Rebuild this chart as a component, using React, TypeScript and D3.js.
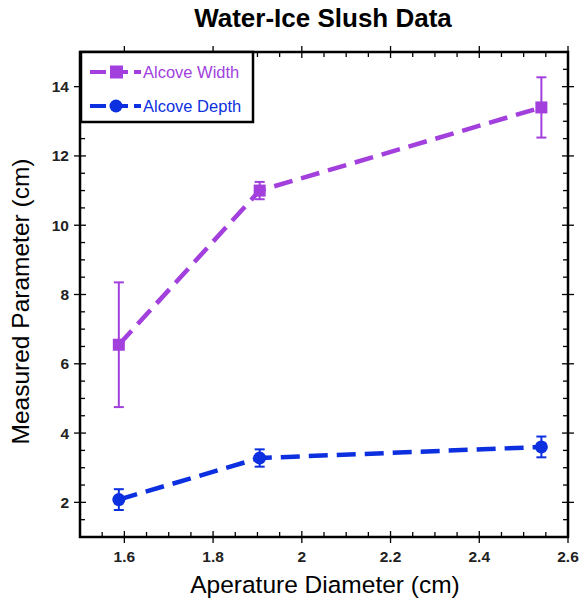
import React, { useEffect, useRef } from "react";
import * as d3 from "d3";

// aperture diameters (cm)
const diameters = [1.5875, 1.905, 2.54];

const widthValues = [6.55, 11.0, 13.4];
const widthErrors = [1.8, 0.25, 0.87];

const depthValues = [2.08, 3.28, 3.6];
const depthErrors = [0.3, 0.25, 0.3];

const xTicks = [1.6, 1.8, 2, 2.2, 2.4, 2.6];
const yTicks = [2, 4, 6, 8, 10, 12, 14];

const PURPLE = "#a23fdd";
const BLUE = "#0c2fe0";

const App = () => {
  const chartRef = useRef<SVGSVGElement>(null);

  useEffect(() => {
    const svg = d3.select(chartRef.current);
    svg.selectAll("*").remove();

    const left = 80;
    const right = 568;
    const top = 52;
    const bottom = 537;

    const x = d3.scaleLinear().domain([1.5, 2.6]).range([left, right]);
    const y = d3.scaleLinear().domain([1, 15]).range([bottom, top]);

    const font = "Arial, 'Liberation Sans', Helvetica, sans-serif";

    // minor ticks
    const xMinor = d3.range(1.55, 2.6, 0.05).filter(v => !xTicks.some(t => Math.abs(t - v) < 1e-6));
    const yMinor = d3.range(1.5, 15, 0.5).filter(v => !yTicks.some(t => Math.abs(t - v) < 1e-6));

    const ticks = svg.append("g").attr("stroke", "#000").attr("stroke-width", 1.3);
    xMinor.forEach(v => {
      ticks.append("line").attr("x1", x(v)).attr("x2", x(v)).attr("y1", bottom).attr("y2", bottom - 5);
      ticks.append("line").attr("x1", x(v)).attr("x2", x(v)).attr("y1", top).attr("y2", top + 5);
    });
    xTicks.forEach(v => {
      ticks.append("line").attr("x1", x(v)).attr("x2", x(v)).attr("y1", bottom - 6).attr("y2", bottom + 6);
      ticks.append("line").attr("x1", x(v)).attr("x2", x(v)).attr("y1", top - 6).attr("y2", top + 6);
    });
    yMinor.forEach(v => {
      ticks.append("line").attr("x1", left).attr("x2", left + 5).attr("y1", y(v)).attr("y2", y(v));
      ticks.append("line").attr("x1", right).attr("x2", right - 5).attr("y1", y(v)).attr("y2", y(v));
    });
    yTicks.forEach(v => {
      ticks.append("line").attr("x1", left - 6).attr("x2", left + 6).attr("y1", y(v)).attr("y2", y(v));
      ticks.append("line").attr("x1", right - 6).attr("x2", right + 6).attr("y1", y(v)).attr("y2", y(v));
    });

    // tick labels
    svg
      .append("g")
      .selectAll("text")
      .data(xTicks)
      .join("text")
      .attr("x", d => x(d))
      .attr("y", bottom + 25)
      .attr("text-anchor", "middle")
      .attr("font-family", font)
      .attr("font-weight", "bold")
      .attr("font-size", 15.5)
      .attr("fill", "#222")
      .text(d => d3.format("")(d));

    svg
      .append("g")
      .selectAll("text")
      .data(yTicks)
      .join("text")
      .attr("x", left - 11)
      .attr("y", d => y(d) + 5.5)
      .attr("text-anchor", "end")
      .attr("font-family", font)
      .attr("font-weight", "bold")
      .attr("font-size", 15.5)
      .attr("fill", "#222")
      .text(d => d);

    // frame
    svg
      .append("rect")
      .attr("x", left)
      .attr("y", top)
      .attr("width", right - left)
      .attr("height", bottom - top)
      .attr("fill", "none")
      .attr("stroke", "#000")
      .attr("stroke-width", 2.5);

    const series = [
      { vals: widthValues, errs: widthErrors, color: PURPLE, shape: "square" },
      { vals: depthValues, errs: depthErrors, color: BLUE, shape: "circle" },
    ];

    const line = d3
      .line<number>()
      .x((d, i) => x(diameters[i]))
      .y(d => y(d));

    series.forEach(s => {
      const g = svg.append("g");
      g.append("path")
        .datum(s.vals)
        .attr("d", line)
        .attr("fill", "none")
        .attr("stroke", s.color)
        .attr("stroke-width", 4.5)
        .attr("stroke-dasharray", "19 9");

      s.vals.forEach((v, i) => {
        const cx = x(diameters[i]);
        const y1 = y(v + s.errs[i]);
        const y2 = y(v - s.errs[i]);
        g.append("line").attr("x1", cx).attr("x2", cx).attr("y1", y1).attr("y2", y2).attr("stroke", s.color).attr("stroke-width", 2);
        g.append("line").attr("x1", cx - 5).attr("x2", cx + 5).attr("y1", y1).attr("y2", y1).attr("stroke", s.color).attr("stroke-width", 2);
        g.append("line").attr("x1", cx - 5).attr("x2", cx + 5).attr("y1", y2).attr("y2", y2).attr("stroke", s.color).attr("stroke-width", 2);
        if (s.shape === "square") {
          g.append("rect").attr("x", cx - 6).attr("y", y(v) - 6).attr("width", 12).attr("height", 12).attr("fill", s.color);
        } else {
          g.append("circle").attr("cx", cx).attr("cy", y(v)).attr("r", 6.5).attr("fill", s.color);
        }
      });
    });

    // legend
    const leg = svg.append("g");
    leg
      .append("rect")
      .attr("x", left + 1)
      .attr("y", top)
      .attr("width", 172)
      .attr("height", 70)
      .attr("fill", "#fff")
      .attr("stroke", "#000")
      .attr("stroke-width", 2.5);
    const legendItems = [
      { label: "Alcove Width", color: PURPLE, shape: "square", yy: top + 20 },
      { label: "Alcove Depth", color: BLUE, shape: "circle", yy: top + 54 },
    ];
    legendItems.forEach(it => {
      leg.append("line").attr("x1", 90).attr("x2", 106).attr("y1", it.yy).attr("y2", it.yy).attr("stroke", it.color).attr("stroke-width", 4);
      leg.append("line").attr("x1", 110).attr("x2", 128).attr("y1", it.yy).attr("y2", it.yy).attr("stroke", it.color).attr("stroke-width", 4);
      leg.append("line").attr("x1", 134).attr("x2", 141).attr("y1", it.yy).attr("y2", it.yy).attr("stroke", it.color).attr("stroke-width", 4);
      if (it.shape === "square") {
        leg.append("rect").attr("x", 110).attr("y", it.yy - 6.5).attr("width", 13).attr("height", 13).attr("fill", it.color);
      } else {
        leg.append("circle").attr("cx", 116).attr("cy", it.yy).attr("r", 6.5).attr("fill", it.color);
      }
      leg
        .append("text")
        .attr("x", 143)
        .attr("y", it.yy + 6)
        .attr("font-family", font)
        .attr("font-size", 16.5)
        .attr("fill", it.color)
        .text(it.label);
    });

    // titles
    svg
      .append("text")
      .attr("x", 323)
      .attr("y", 27)
      .attr("text-anchor", "middle")
      .attr("font-family", font)
      .attr("font-weight", "bold")
      .attr("font-size", 26)
      .text("Water-Ice Slush Data");

    svg
      .append("text")
      .attr("x", 325)
      .attr("y", 593)
      .attr("text-anchor", "middle")
      .attr("font-family", font)
      .attr("font-size", 24.5)
      .text("Aperature Diameter (cm)");

    svg
      .append("text")
      .attr("transform", `translate(29, ${(top + bottom) / 2 + 7}) rotate(-90)`)
      .attr("text-anchor", "middle")
      .attr("font-family", font)
      .attr("font-size", 24.5)
      .text("Measured Parameter (cm)");
  }, []);

  return (
    <svg
      ref={chartRef}
      width={587}
      height={600}
      style={{ position: "absolute", left: 0, top: 0, background: "#fff" }}
    ></svg>
  );
};

export default App;
